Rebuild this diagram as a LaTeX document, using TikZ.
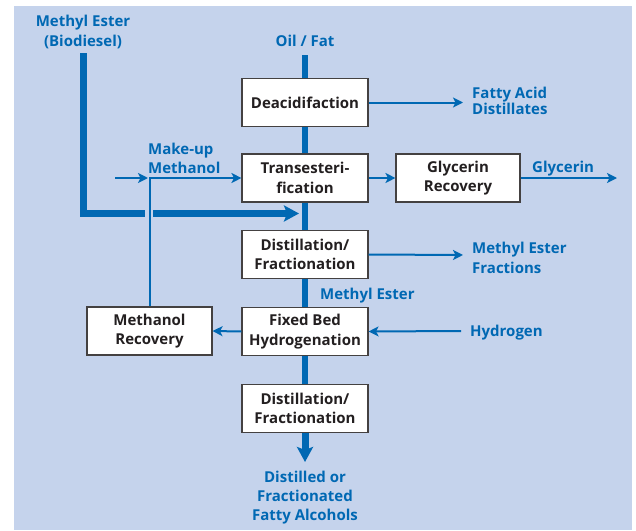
\documentclass[tikz,border=0pt]{standalone}
\usepackage{fontspec}
\setmainfont{Open Sans}
\usetikzlibrary{arrows.meta}
\definecolor{bgc}{HTML}{C5D3EC}
\definecolor{fb}{HTML}{0068B3}
\definecolor{tx}{HTML}{231F20}
\begin{document}
\begin{tikzpicture}[x=1pt,y=-1pt,
  box/.style={draw=tx!85, line width=1.1pt, fill=white, minimum width=126pt, minimum height=48pt,
    align=center, font=\bfseries\fontsize{15}{19.5}\selectfont, text=tx, inner sep=0pt},
  lbl/.style={text=fb, font=\bfseries\fontsize{15}{18}\selectfont, inner sep=0pt},
  flow/.style={draw=fb, line width=2pt, -{Stealth[length=10pt,width=10pt,inset=2.5pt]}},
  mainline/.style={draw=fb, line width=6.5pt},
  mainarrow/.style={draw=fb, line width=7pt, -{Stealth[length=15pt,width=16pt,inset=3pt]}}
]
\useasboundingbox (0,0) rectangle (636,530);
\fill[bgc] (14,6) rectangle (632,530);

% process boxes
\node[box] (deac) at (305,102.5) {Deacidifaction};
\node[box] (trans) at (305,178) {Transesteri-\\fication};
\node[box] (dist1) at (305,254.5) {Distillation/\\Fractionation};
\node[box] (hydro) at (305,331.5) {Fixed Bed\\Hydrogenation};
\node[box] (dist2) at (305,408.5) {Distillation/\\Fractionation};
\node[box, minimum width=124pt] (glyc) at (458,178) {Glycerin\\Recovery};
\node[box, minimum width=125pt] (mrec) at (149.5,331) {Methanol\\Recovery};

% labels
\node[lbl, align=center, font=\bfseries\fontsize{15}{20}\selectfont] (biod) at (83,31.5) {Methyl Ester\\(Biodiesel)};
\node[lbl] (oil) at (305,40.5) {Oil / Fat};
\node[lbl, anchor=west, align=left, font=\bfseries\fontsize{15}{16}\selectfont] (fad) at (472,101) {Fatty Acid\\Distillates};
\node[lbl, anchor=west] (gly) at (532,169) {Glycerin};
\node[lbl, anchor=west, align=left, font=\bfseries\fontsize{15}{20}\selectfont] (mef) at (472,258) {Methyl Ester\\Fractions};
\node[lbl, anchor=west] (me) at (320,296) {Methyl Ester};
\node[lbl, anchor=west] (h2) at (470,333) {Hydrogen};
\node[lbl, anchor=west, align=left, font=\bfseries\fontsize{15}{19}\selectfont] (mum) at (148,158.5) {Make-up\\Methanol};
\node[lbl, align=center, font=\bfseries\fontsize{15}{19}\selectfont] (dfa) at (305,497.5) {Distilled or\\Fractionated\\Fatty Alcohols};

% free ends
\coordinate (top) at (305,55);
\coordinate (outlet) at (305,462);
\coordinate (fadend) at (463,102.5);
\coordinate (glyend) at (617,178);
\coordinate (mefend) at (463,255);
\coordinate (h2start) at (461,331);
\coordinate (mustart) at (115,178);
\coordinate (mujoin) at (148,178);
\coordinate (biodtop) at (83.5,53);
\coordinate (bcorner) at (83.5,213.5);
\coordinate (gapL) at (145,213.5);
\coordinate (gapR) at (153,213.5);
\coordinate (bend) at (299,213.5);

% main stream
\draw[mainline] (top) -- (deac.north);
\draw[mainline] (deac.south) -- (trans.north);
\draw[mainline] (trans.south) -- (dist1.north);
\draw[mainline] (dist1.south) -- (hydro.north);
\draw[mainline] (hydro.south) -- (dist2.north);
\draw[mainarrow] (dist2.south) -- (outlet);

% biodiesel stream
\draw[draw=fb, line width=7pt] (biodtop) -- (bcorner) -- (gapL);
\draw[mainarrow, line width=7pt] (gapR) -- (bend);

% thin flows
\draw[flow] (deac.east) -- (fadend);
\draw[flow] (trans.east) -- (glyc.west);
\draw[flow] (glyc.east) -- (glyend);
\draw[flow] (dist1.east) -- (mefend);
\draw[flow] (h2start) -- (hydro.east);
\draw[flow] (hydro.west) -- (mrec.east);
\draw[flow] (mrec.north) |- (trans.west);
\draw[flow] (mustart) -- (mujoin);
\end{tikzpicture}
\end{document}
